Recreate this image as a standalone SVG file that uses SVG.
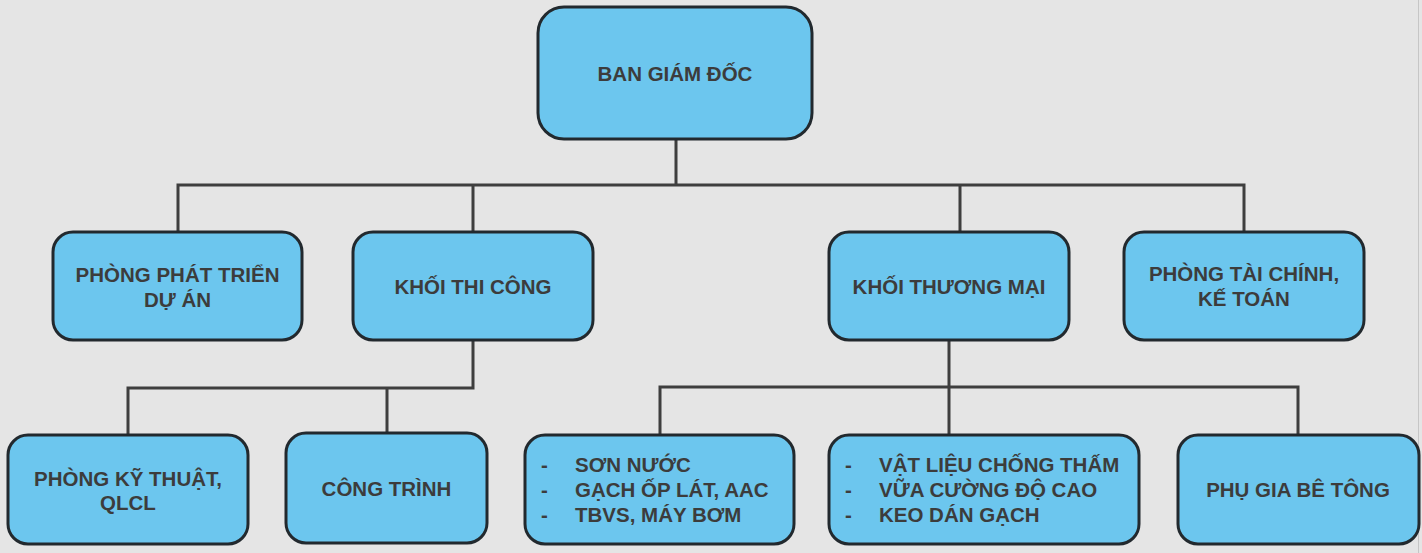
<svg xmlns="http://www.w3.org/2000/svg" width="1422" height="553" viewBox="0 0 1422 553">
<style>
.bg{fill:#e5e5e5}
.box{fill:#6cc6ee;stroke:#22292e;stroke-width:3}
.c{fill:none;stroke:#3e3e3e;stroke-width:3;stroke-linecap:square}
text{font-family:"Liberation Sans",Arial,sans-serif;font-weight:bold;font-size:20.5px;fill:#3c3c3c}
.m{text-anchor:middle}
</style>
<rect class="bg" x="0" y="0" width="1422" height="553"/>
<line x1="1418.5" y1="0" x2="1418.5" y2="553" stroke="#c6c6c6" stroke-width="1"/>
<g id="connectors">
<path class="c" d="M676 139V185M178 185H1244M178 185V232M473 185V232M960 185V232M1244 185V232"/>
<path class="c" d="M473 340V388H128V435M387 388V433"/>
<path class="c" d="M949 340V435M660 387H1298M660 387V435M1298 387V435"/>
</g>
<g id="n-bgd"><rect class="box" x="538" y="7" width="274" height="132" rx="26"/><text class="m" x="675" y="81">BAN GIÁM ĐỐC</text></g>
<g id="n-ptda"><rect class="box" x="53" y="232" width="249" height="108" rx="20"/><text class="m" x="177.5" y="282">PHÒNG PHÁT TRIỂN</text><text class="m" x="177.5" y="307">DỰ ÁN</text></g>
<g id="n-ktc"><rect class="box" x="353" y="232" width="240" height="108" rx="20"/><text class="m" x="473" y="294">KHỐI THI CÔNG</text></g>
<g id="n-ktm"><rect class="box" x="829" y="232" width="240" height="108" rx="20"/><text class="m" x="949" y="294">KHỐI THƯƠNG MẠI</text></g>
<g id="n-ptc"><rect class="box" x="1124" y="232" width="240" height="108" rx="20"/><text class="m" x="1244" y="281">PHÒNG TÀI CHÍNH,</text><text class="m" x="1244" y="306">KẾ TOÁN</text></g>
<g id="n-pkt"><rect class="box" x="8" y="435" width="240" height="109" rx="20"/><text class="m" x="128" y="486">PHÒNG KỸ THUẬT,</text><text class="m" x="128" y="510">QLCL</text></g>
<g id="n-ct"><rect class="box" x="286" y="433" width="201" height="110" rx="20"/><text class="m" x="386.5" y="496">CÔNG TRÌNH</text></g>
<g id="n-sn"><rect class="box" x="525" y="435" width="269" height="109" rx="20"/>
<text x="541" y="472">-</text><text x="575" y="472">SƠN NƯỚC</text>
<text x="541" y="497">-</text><text x="575" y="497">GẠCH ỐP LÁT, AAC</text>
<text x="541" y="522">-</text><text x="575" y="522">TBVS, MÁY BƠM</text></g>
<g id="n-vl"><rect class="box" x="829" y="435" width="310" height="109" rx="20"/>
<text x="845" y="472">-</text><text x="879" y="472">VẬT LIỆU CHỐNG THẤM</text>
<text x="845" y="497">-</text><text x="879" y="497">VỮA CƯỜNG ĐỘ CAO</text>
<text x="845" y="522">-</text><text x="879" y="522">KEO DÁN GẠCH</text></g>
<g id="n-pg"><rect class="box" x="1178" y="435" width="241" height="109" rx="20"/><text class="m" x="1298" y="497">PHỤ GIA BÊ TÔNG</text></g>
</svg>
